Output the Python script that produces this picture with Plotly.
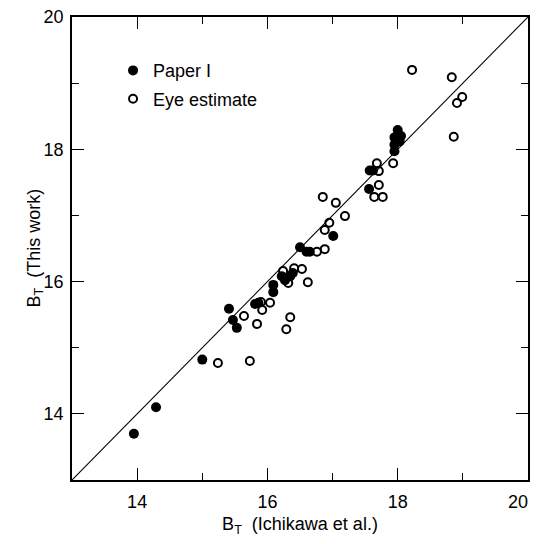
import plotly.graph_objects as go

# Paper I (filled)
paper_x = [13.95, 14.29, 15.00, 15.41, 15.47, 15.53, 15.81, 15.86, 16.09, 16.09,
           16.22, 16.27, 16.35, 16.39, 16.50, 16.60, 16.65, 17.01, 17.56, 17.57,
           17.62, 17.95, 17.95, 17.95, 18.00, 18.05, 18.03]
paper_y = [13.70, 14.10, 14.82, 15.59, 15.42, 15.30, 15.66, 15.68, 15.95, 15.84,
           16.08, 16.02, 16.08, 16.13, 16.52, 16.45, 16.45, 16.69, 17.40, 17.68,
           17.68, 17.97, 18.07, 18.18, 18.29, 18.20, 18.12]

# Eye estimate (open)
eye_x = [15.24, 15.73, 15.64, 15.84, 15.92, 15.90, 16.04, 16.24, 16.32, 16.41,
         16.53, 16.62, 16.35, 16.29, 16.76, 16.88, 16.88, 16.95, 16.85, 17.05,
         17.19, 17.68, 17.71, 17.93, 17.71, 17.64, 17.77, 18.22, 18.83, 18.99,
         18.91, 18.86]
eye_y = [14.77, 14.80, 15.48, 15.36, 15.57, 15.69, 15.68, 16.16, 15.98, 16.20,
         16.19, 15.99, 15.46, 15.28, 16.45, 16.49, 16.78, 16.89, 17.28, 17.19,
         16.99, 17.79, 17.67, 17.79, 17.46, 17.28, 17.28, 19.20, 19.09, 18.79,
         18.70, 18.19]

# one-to-one line
line_x = [13, 20]
line_y = [13, 20]

tick_vals = [14, 16, 18, 20]
x_tick_text = ["14", "16", "18", "20\u00a0\u00a0\u00a0\u00a0"]
y_tick_text = ["14", "16", "18", "20"]

FONT = "Liberation Sans, Arial, sans-serif"

fig = go.Figure()
fig.add_trace(go.Scatter(x=line_x, y=line_y, mode="lines",
                         line=dict(color="black", width=1.1),
                         showlegend=False, hoverinfo="skip"))
fig.add_trace(go.Scatter(x=paper_x, y=paper_y, mode="markers", name="Paper I",
                         legendgroup="a",
                         marker=dict(symbol="circle", size=10, color="black",
                                     line=dict(width=0))))
fig.add_trace(go.Scatter(x=eye_x, y=eye_y, mode="markers", name="Eye estimate",
                         legendgroup="b",
                         marker=dict(symbol="circle-open", size=8, color="black",
                                     line=dict(width=2, color="black"))))

axis_common = dict(
    range=[13, 20], showline=True, linecolor="black", linewidth=1.5,
    mirror="ticks", ticks="inside", ticklen=12, tickwidth=1.3, tickcolor="black",
    tickvals=tick_vals, showgrid=False, zeroline=False,
    tickfont=dict(family=FONT, size=18, color="black"), automargin=False,
    ticklabeloverflow="allow",
    minor=dict(dtick=1, tick0=13, ticks="inside", ticklen=7, tickwidth=1.3,
               tickcolor="black", showgrid=False),
)

fig.update_xaxes(**axis_common, ticktext=x_tick_text, ticklabelstandoff=5,
                 title=dict(text="B<sub>T</sub>  (Ichikawa et al.)",
                            font=dict(family=FONT, size=18, color="black"),
                            standoff=6))
fig.update_yaxes(**axis_common, ticktext=y_tick_text, ticklabelstandoff=3)

fig.add_annotation(text="B<sub>T</sub>  (This work)", xref="paper", yref="paper",
                   x=0, y=0.5, xanchor="center", yanchor="middle", xshift=-37,
                   textangle=-90, showarrow=False,
                   font=dict(family=FONT, size=18, color="black"))

fig.update_layout(
    width=538, height=544,
    margin=dict(l=64, r=18, t=9, b=72),
    plot_bgcolor="white", paper_bgcolor="white",
    legend=dict(x=0.090, y=0.924, xanchor="left", yanchor="top",
                font=dict(family=FONT, size=18, color="black"),
                bgcolor="rgba(0,0,0,0)", traceorder="grouped",
                tracegroupgap=2, itemwidth=30),
)

fig.write_html("out.html")
